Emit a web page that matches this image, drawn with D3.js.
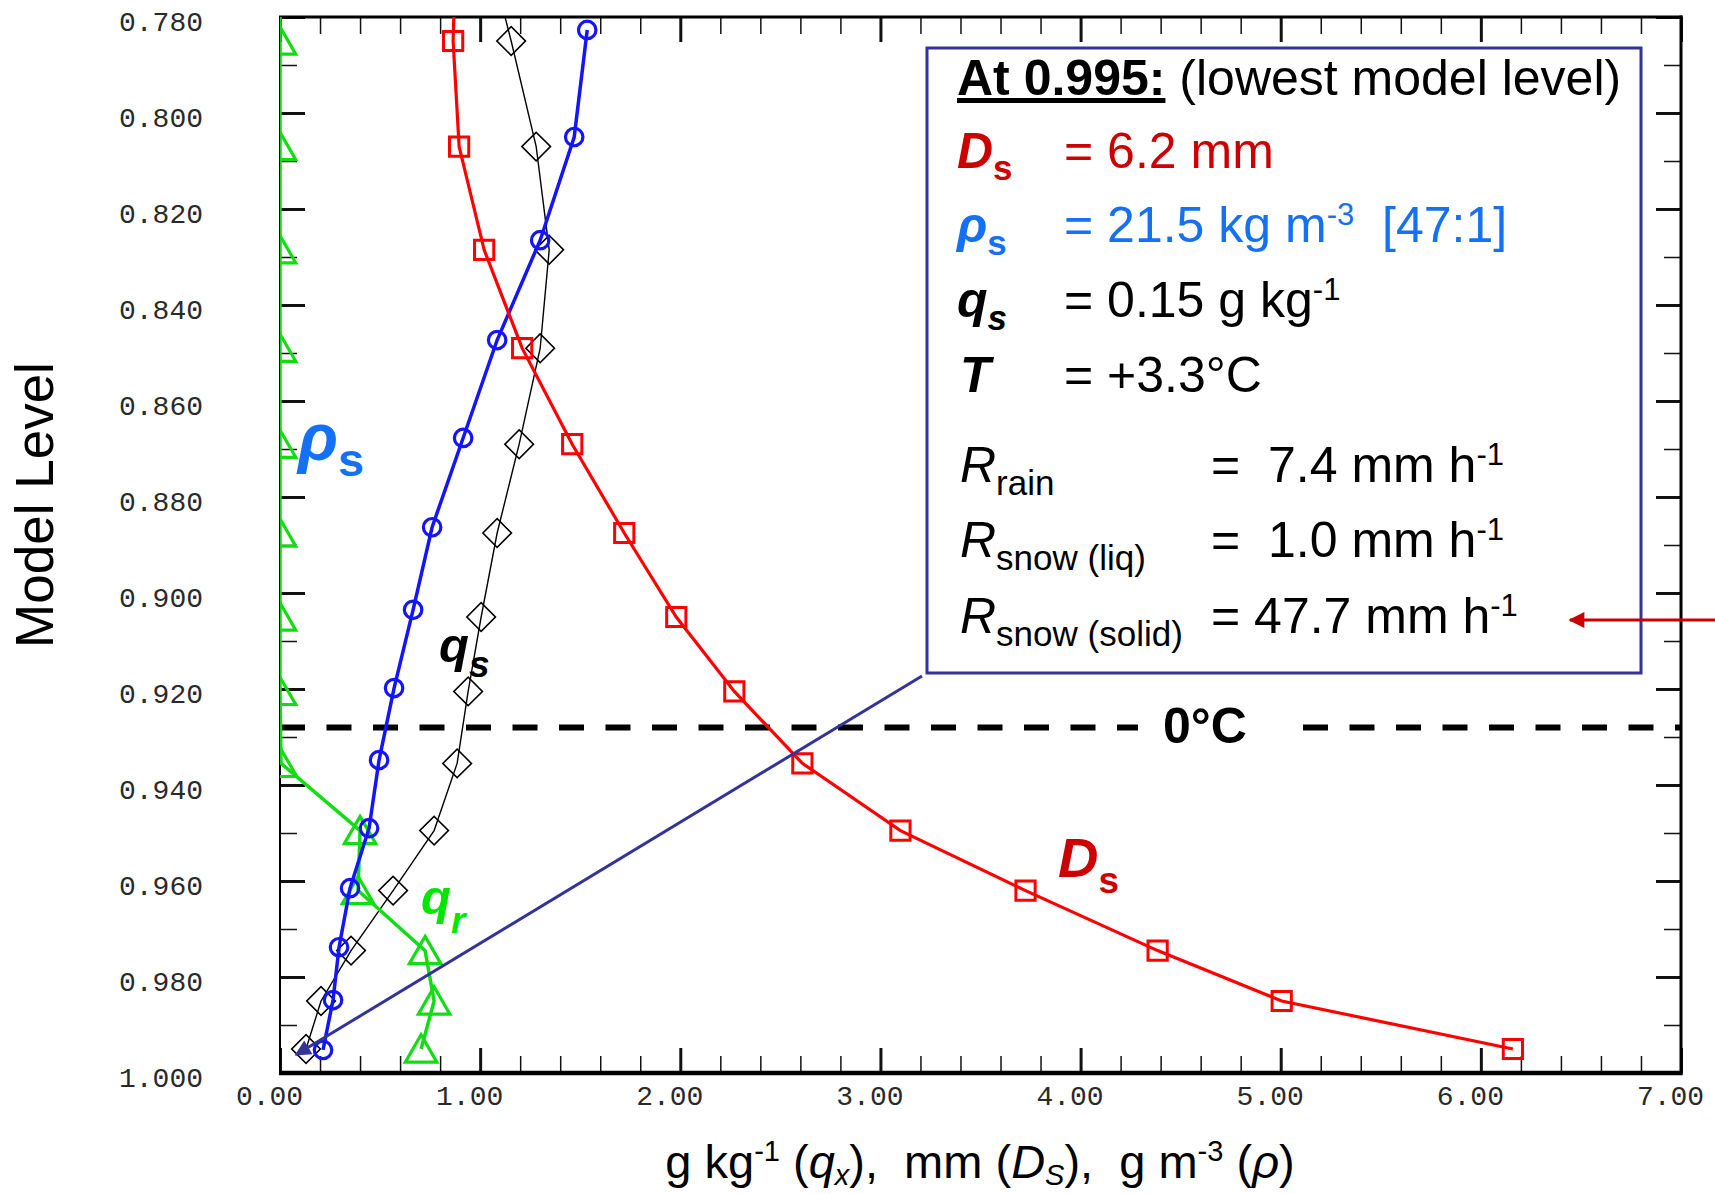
<!DOCTYPE html>
<html>
<head>
<meta charset="utf-8">
<script src="https://cdn.jsdelivr.net/npm/d3@7"></script>
<style>
body { margin: 0; background: #fff; }
svg { display: block; }
text { font-family: "Liberation Sans", Arial, sans-serif; }
.tick text { font-family: "Liberation Mono", monospace; font-size: 28px; fill: #2a2a2a; }
</style>
</head>
<body>
<svg width="1715" height="1194"></svg>
<script>
// model levels (sigma) of the profile points, top one lies above the plotted range
const levels = [0.763, 0.785, 0.807, 0.8285, 0.849, 0.869, 0.8875, 0.905, 0.9205, 0.9355, 0.9495, 0.962, 0.9745, 0.985, 0.995];
const Ds = [0.88, 0.865, 0.895, 1.02, 1.21, 1.46, 1.72, 1.98, 2.27, 2.61, 3.10, 3.725, 4.385, 5.005, 6.16];
const qs = [1.02, 1.155, 1.28, 1.345, 1.30, 1.195, 1.085, 1.005, 0.94, 0.885, 0.77, 0.565, 0.355, 0.205, 0.13];
const qr = [0, 0, 0, 0, 0, 0, 0, 0, 0, 0.005, 0.40, 0.39, 0.725, 0.77, 0.705];
// snow density is drawn on its own (slightly shifted) levels
const rhoLevels = [0.7827, 0.805, 0.8265, 0.8473, 0.8677, 0.8863, 0.9035, 0.9198, 0.9348, 0.949, 0.9615, 0.9738, 0.9848, 0.9952];
const rho = [1.535, 1.47, 1.30, 1.085, 0.915, 0.76, 0.665, 0.57, 0.495, 0.445, 0.35, 0.295, 0.265, 0.215];

const yTicks = [0.78, 0.80, 0.82, 0.84, 0.86, 0.88, 0.90, 0.92, 0.94, 0.96, 0.98, 1.00];
const yMinor = [0.79, 0.81, 0.83, 0.85, 0.87, 0.89, 0.91, 0.93, 0.95, 0.97, 0.99];
const xTicks = [0, 1, 2, 3, 4, 5, 6, 7];
const xMinor = d3.range(0, 35).map((i) => i / 5).filter((v) => !Number.isInteger(v));

const freezingLevel = 0.928;
const calloutTip = { v: 0.08, l: 0.9962 };

const svg = d3.select("svg");
const x = d3.scaleLinear().domain([0, 7]).range([280, 1681]);
const y = d3.scaleLinear().domain([0.78, 1.0]).range([17, 1073]);

const RED_TXT = "#cc0000";
const BLUE_TXT = "#1470f5";
const FS = 50; // box font size

const defs = svg.append("defs");
defs.append("clipPath").attr("id", "plot")
	.append("rect").attr("x", 280).attr("y", 17).attr("width", 1401).attr("height", 1056);

function arrowMarker(id, color, w, h) {
	defs.append("marker").attr("id", id)
		.attr("viewBox", "0 0 10 10").attr("refX", 9).attr("refY", 5)
		.attr("markerUnits", "userSpaceOnUse")
		.attr("markerWidth", w).attr("markerHeight", h)
		.attr("orient", "auto")
		.append("path").attr("d", "M0,0L10,5L0,10Z").attr("fill", color);
}
arrowMarker("navyHead", "#333399", 22, 16);
arrowMarker("redHead", "#cc0000", 18, 16);

// ---- axes ----
function tidy(g, w) {
	g.select(".domain").remove();
	g.attr("font-family", null).attr("font-size", null);
	g.selectAll(".tick line").attr("stroke", "#111").attr("stroke-width", w);
}

svg.append("g").attr("transform", "translate(280,0)")
	.call(d3.axisLeft(y).tickValues(yTicks).tickSize(-25).tickPadding(77).tickFormat(d3.format(".3f")))
	.call((g) => tidy(g, 3))
	.call((g) => g.selectAll(".tick text").attr("dy", "0.47em"));
svg.append("g").attr("transform", "translate(280,0)")
	.call(d3.axisLeft(y).tickValues(yMinor).tickSize(-17).tickFormat(""))
	.call((g) => tidy(g, 1.5));
svg.append("g").attr("transform", "translate(1681,0)")
	.call(d3.axisRight(y).tickValues(yTicks).tickSize(-25).tickFormat(""))
	.call((g) => tidy(g, 3));
svg.append("g").attr("transform", "translate(1681,0)")
	.call(d3.axisRight(y).tickValues(yMinor).tickSize(-17).tickFormat(""))
	.call((g) => tidy(g, 1.5));

svg.append("g").attr("transform", "translate(0,1073)")
	.call(d3.axisBottom(x).tickValues(xTicks).tickSize(-25).tickPadding(12).tickFormat(d3.format(".2f")))
	.call((g) => tidy(g, 3))
	.call((g) => g.selectAll(".tick text").attr("x", -11));
svg.append("g").attr("transform", "translate(0,1073)")
	.call(d3.axisBottom(x).tickValues(xMinor).tickSize(-17).tickFormat(""))
	.call((g) => tidy(g, 1.5));
svg.append("g").attr("transform", "translate(0,17)")
	.call(d3.axisTop(x).tickValues(xTicks).tickSize(-25).tickFormat(""))
	.call((g) => tidy(g, 3));
svg.append("g").attr("transform", "translate(0,17)")
	.call(d3.axisTop(x).tickValues(xMinor).tickSize(-17).tickFormat(""))
	.call((g) => tidy(g, 1.5));

// frame
const frame = svg.append("g").attr("stroke", "#000");
frame.append("line").attr("x1", x(0)).attr("x2", x(0)).attr("y1", y(0.78)).attr("y2", y(1)).attr("stroke-width", 2);
frame.append("line").attr("x1", x(7)).attr("x2", x(7)).attr("y1", y(0.78) - 1.5).attr("y2", y(1) + 2).attr("stroke-width", 3);
frame.append("line").attr("x1", x(0) - 1).attr("x2", x(7) + 1.5).attr("y1", y(0.78)).attr("y2", y(0.78)).attr("stroke-width", 3);
frame.append("line").attr("x1", x(0) - 1).attr("x2", x(7) + 1.5).attr("y1", y(1)).attr("y2", y(1)).attr("stroke-width", 4.5);

// 0 degC line
svg.append("line")
	.attr("x1", x(0)).attr("x2", x(7))
	.attr("y1", y(freezingLevel)).attr("y2", y(freezingLevel))
	.attr("stroke", "#000").attr("stroke-width", 6)
	.attr("stroke-dasharray", "25,21.5");
svg.append("rect").attr("x", 1138).attr("y", y(freezingLevel) - 8).attr("width", 152).attr("height", 16).attr("fill", "#fff");
svg.append("text").attr("x", 1205).attr("y", 743).attr("text-anchor", "middle")
	.attr("font-size", 50).attr("font-weight", "bold").text("0°C");

// ---- profiles ----
const series = [
	{ lv: levels, vals: qs, color: "#000", width: 1.4, marker: "diamond", mw: 1.6 },
	{ lv: levels, vals: qr, color: "#14dc14", width: 3.5, marker: "triangle", mw: 3.2 },
	{ lv: rhoLevels, vals: rho, color: "#1414ff", width: 3.5, marker: "circle", mw: 3.2 },
	{ lv: levels, vals: Ds, color: "#ff0000", width: 3.2, marker: "square", mw: 3 },
];

const plot = svg.append("g").attr("clip-path", "url(#plot)");
const line = d3.line().x((d) => x(d.v)).y((d) => y(d.l));
const symbols = {
	diamond: { path: d3.symbol(d3.symbolSquare, 410)(), rot: 45, dy: 0 },
	triangle: { path: d3.symbol(d3.symbolTriangle, 430)(), rot: 0, dy: 4 },
	circle: { path: d3.symbol(d3.symbolCircle, 240)(), rot: 0, dy: 0 },
	square: { path: d3.symbol(d3.symbolSquare, 370)(), rot: 0, dy: 0 },
};

series.forEach((s) => {
	const pts = s.vals.map((v, i) => ({ v: v, l: s.lv[i] }));
	plot.append("path").datum(pts).attr("d", line)
		.attr("fill", "none").attr("stroke", s.color).attr("stroke-width", s.width);
	const sym = symbols[s.marker];
	plot.selectAll(null).data(pts).join("path")
		.attr("d", sym.path)
		.attr("transform", (d) => `translate(${x(d.v)},${y(d.l) + sym.dy}) rotate(${sym.rot})`)
		.attr("fill", "none").attr("stroke", s.color).attr("stroke-width", s.mw);
});

// ---- rich text helper ----
function rich(parent, px, py, parts, anchor) {
	const t = parent.append("text").attr("x", px).attr("y", py)
		.attr("xml:space", "preserve").style("white-space", "pre");
	if (anchor) t.attr("text-anchor", anchor);
	let cur = 0;
	parts.forEach((p) => {
		const s = t.append("tspan").text(p.t);
		if (p.x != null) s.attr("x", p.x);
		const off = p.off || 0;
		if (off !== cur) s.attr("dy", off - cur);
		cur = off;
		s.attr("font-size", p.size || FS);
		if (p.w) s.attr("font-weight", p.w);
		if (p.st) s.attr("font-style", p.st);
		if (p.fill) s.attr("fill", p.fill);
		if (p.u) s.attr("text-decoration", "underline");
	});
	return t;
}

// ---- labels on the curves ----
rich(svg, 298, 460, [
	{ t: "ρ", size: 66, w: "bold", st: "italic", fill: BLUE_TXT },
	{ t: "s", size: 47, w: "bold", fill: BLUE_TXT, off: 16 },
]);
rich(svg, 439, 662, [
	{ t: "q", size: 49, w: "bold", st: "italic" },
	{ t: "s", size: 37, w: "bold", st: "italic", off: 15 },
]);
rich(svg, 421, 914, [
	{ t: "q", size: 49, w: "bold", st: "italic", fill: "#00e600" },
	{ t: "r", size: 37, w: "bold", st: "italic", fill: "#00e600", off: 19 },
]);
rich(svg, 1058, 877, [
	{ t: "D", size: 56, w: "bold", st: "italic", fill: RED_TXT },
	{ t: "s", size: 37, w: "bold", fill: RED_TXT, off: 16 },
]);

// ---- annotation box ----
svg.append("rect").attr("x", 927).attr("y", 48).attr("width", 714).attr("height", 625)
	.attr("fill", "#fff").attr("stroke", "#333399").attr("stroke-width", 3);

svg.append("line")
	.attr("x1", 922).attr("y1", 676)
	.attr("x2", x(calloutTip.v)).attr("y2", y(calloutTip.l))
	.attr("stroke", "#333399").attr("stroke-width", 3)
	.attr("marker-end", "url(#navyHead)");

svg.append("line")
	.attr("x1", 1715).attr("y1", 620).attr("x2", 1570).attr("y2", 620)
	.attr("stroke", "#cc0000").attr("stroke-width", 3)
	.attr("marker-end", "url(#redHead)");

const box = svg.append("g");
rich(box, 957, 95, [
	{ t: "At 0.995:", w: "bold", u: true },
	{ t: " (lowest model level)" },
]);
rich(box, 957, 168, [
	{ t: "D", w: "bold", st: "italic", fill: RED_TXT },
	{ t: "s", size: 35, w: "bold", fill: RED_TXT, off: 12 },
	{ t: "= 6.2 mm", x: 1064, fill: RED_TXT },
]);
rich(box, 957, 242, [
	{ t: "ρ", w: "bold", st: "italic", fill: BLUE_TXT },
	{ t: "s", size: 35, w: "bold", fill: BLUE_TXT, off: 13 },
	{ t: "= 21.5 kg m", x: 1064, fill: BLUE_TXT },
	{ t: "-3", size: 31, fill: BLUE_TXT, off: -17 },
	{ t: "  [47:1]", fill: BLUE_TXT },
]);
rich(box, 957, 317, [
	{ t: "q", w: "bold", st: "italic" },
	{ t: "s", size: 35, w: "bold", st: "italic", off: 13 },
	{ t: "= 0.15 g kg", x: 1064 },
	{ t: "-1", size: 31, off: -17 },
]);
rich(box, 960, 392, [
	{ t: "T", w: "bold", st: "italic" },
	{ t: "= +3.3°C", x: 1064 },
]);
[
	{ yy: 482, sub: "rain", val: "=  7.4 mm h" },
	{ yy: 557, sub: "snow (liq)", val: "=  1.0 mm h" },
	{ yy: 633, sub: "snow (solid)", val: "= 47.7 mm h" },
].forEach((r) => {
	rich(box, 960, r.yy, [
		{ t: "R", st: "italic" },
		{ t: r.sub, size: 35, off: 13 },
		{ t: r.val, x: 1211 },
		{ t: "-1", size: 31, off: -17 },
	]);
});

// ---- axis titles ----
svg.append("text")
	.attr("transform", "translate(53,505) rotate(-90)")
	.attr("text-anchor", "middle").attr("font-size", 53)
	.text("Model Level");

rich(svg, 980, 1178, [
	{ t: "g kg", size: 47 },
	{ t: "-1", size: 29, off: -17 },
	{ t: " (", size: 47 },
	{ t: "q", size: 47, st: "italic" },
	{ t: "x", size: 29, st: "italic", off: 7 },
	{ t: "),  mm (", size: 47 },
	{ t: "D", size: 47, st: "italic" },
	{ t: "S", size: 29, st: "italic", off: 7 },
	{ t: "),  g m", size: 47 },
	{ t: "-3", size: 29, off: -17 },
	{ t: " (", size: 47 },
	{ t: "ρ", size: 47, st: "italic" },
	{ t: ")", size: 47 },
], "middle");
</script>
</body>
</html>
